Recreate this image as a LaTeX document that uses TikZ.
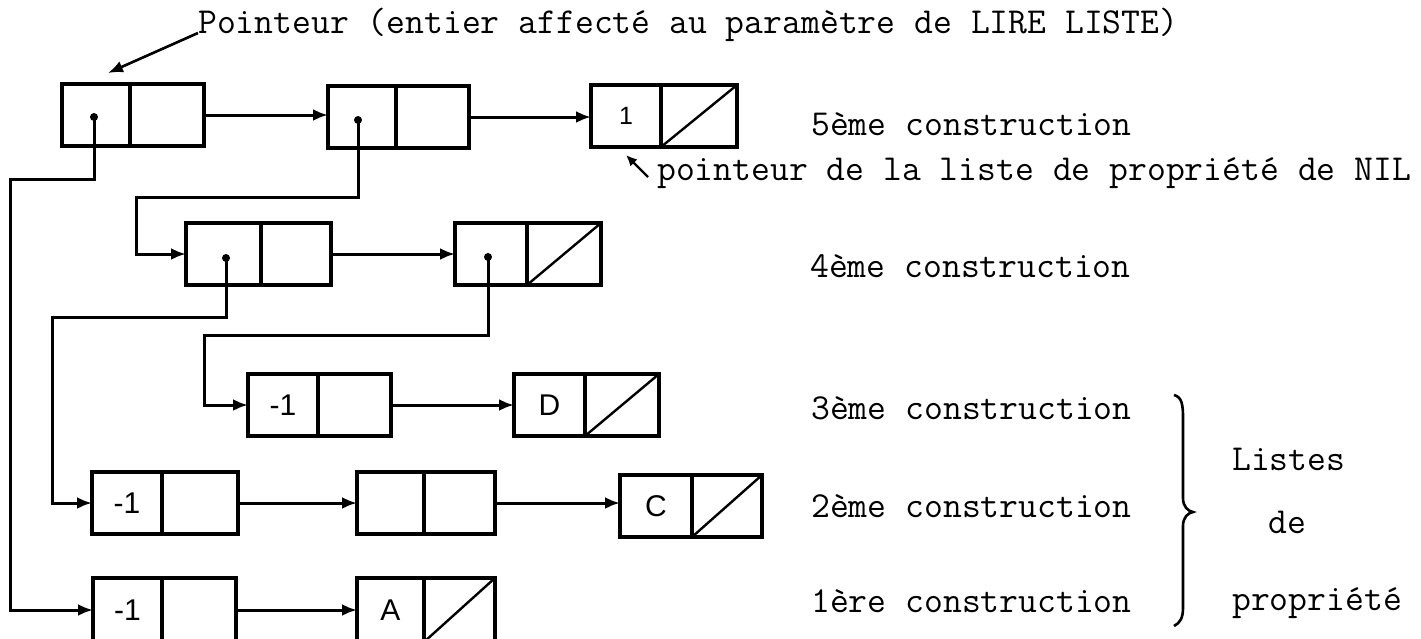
\documentclass[tikz,border=0pt]{standalone}
\usepackage{fontspec}
\setsansfont{Liberation Sans}
\usetikzlibrary{arrows.meta}
\begin{document}
\begin{tikzpicture}[x=1pt,y=-1pt,
  cell/.style={draw, line width=3.2pt, inner sep=0pt, outer sep=0pt, minimum height=62pt, anchor=north west, font=\sffamily\fontsize{30}{32}\selectfont},
  link/.style={line width=3pt, -{Latex[length=15pt,width=12pt]}},
  diag/.style={line width=2.4pt},
  lbl/.style={font=\ttfamily\fontsize{36.6}{40}\selectfont, anchor=base west, inner sep=0pt},
  dotc/.style={fill=black}]
\useasboundingbox (0,0) rectangle (1421,638);
\clip (0,0) rectangle (1421,638);

% row 1
\node[cell, minimum width=68pt] (b1l) at (62,84) {};
\node[cell, minimum width=74pt] (b1r) at (b1l.north east) {};
\node[cell, minimum width=68pt] (b2l) at (328,86) {};
\node[cell, minimum width=73pt] (b2r) at (b2l.north east) {};
\node[cell, minimum width=70pt, font=\sffamily\fontsize{25}{27}\selectfont] (b3l) at (591,85) {1};
\node[cell, minimum width=76pt] (b3r) at (b3l.north east) {};
% row 2
\node[cell, minimum width=75pt] (b4l) at (186,223) {};
\node[cell, minimum width=70pt] (b4r) at (b4l.north east) {};
\node[cell, minimum width=72pt] (b5l) at (455,223) {};
\node[cell, minimum width=74pt] (b5r) at (b5l.north east) {};
% row 3
\node[cell, minimum width=70pt] (b6l) at (248,374) {-1};
\node[cell, minimum width=73pt] (b6r) at (b6l.north east) {};
\node[cell, minimum width=71pt] (b7l) at (514,374) {D};
\node[cell, minimum width=74pt] (b7r) at (b7l.north east) {};
% row 4
\node[cell, minimum width=70pt] (b8l) at (92,472) {-1};
\node[cell, minimum width=76pt] (b8r) at (b8l.north east) {};
\node[cell, minimum width=67pt] (b9l) at (357,472) {};
\node[cell, minimum width=71pt] (b9r) at (b9l.north east) {};
\node[cell, minimum width=72pt] (b10l) at (620,475) {C};
\node[cell, minimum width=70pt] (b10r) at (b10l.north east) {};
% row 5
\node[cell, minimum width=69pt, minimum height=64pt] (b11l) at (93,578) {-1};
\node[cell, minimum width=74pt, minimum height=64pt] (b11r) at (b11l.north east) {};
\node[cell, minimum width=67pt, minimum height=64pt] (b12l) at (357,578) {A};
\node[cell, minimum width=71pt, minimum height=64pt] (b12r) at (b12l.north east) {};

% nil diagonals
\foreach \c in {b3r,b5r,b7r,b10r,b12r}
  \draw[diag] (\c.south west) -- (\c.north east);

% horizontal links
\draw[link] (b1r.east) -- (b1r.east -| b2l.west);
\draw[link] (b2r.east) -- (b2r.east -| b3l.west);
\draw[link] (b4r.east) -- (b4r.east -| b5l.west);
\draw[link] (b6r.east) -- (b6r.east -| b7l.west);
\draw[link] (b8r.east) -- (b8r.east -| b9l.west);
\draw[link] (b9r.east) -- (b9r.east -| b10l.west);
\draw[link] (b11r.east) -- (b11r.east -| b12l.west);

% pointer dots
\coordinate (d1) at (94,117);
\coordinate (d2) at (358,120);
\coordinate (d3) at (226,258);
\coordinate (d4) at (488,257);
\foreach \d in {d1,d2,d3,d4} \fill[dotc] (\d) circle (4);

\coordinate (j1) at (10,179);
\coordinate (j2) at (136,197);
\coordinate (j3) at (52,317);
\coordinate (j4) at (204,335);
\draw[link] (d1) |- (j1) |- (b11l.west);
\draw[link] (d2) |- (j2) |- (b4l.west);
\draw[link] (d3) |- (j3) |- (b8l.west);
\draw[link] (d4) |- (j4) |- (b6l.west);

% top label
\node[lbl] (ptr) at (198,33) {Pointeur (entier affecté au paramètre de LIRE LISTE)};
\coordinate (ptip) at (108,73);
\draw[link, line width=2.6pt] (ptr.base west) -- (ptip);

% NIL property-list pointer label
\node[lbl] (nilp) at (657,180) {pointeur de la liste de propriété de NIL};
\coordinate (ntail) at (648,177);
\coordinate (ntip) at (626,155);
\draw[line width=2.4pt, -{Latex[length=11pt,width=10pt]}] (ntail) -- (ntip);

% construction labels
\node[lbl] (c5) at (811,135) {5ème construction};
\node[lbl] (c4) at (810,277) {4ème construction};
\node[lbl] (c3) at (811,419) {3ème construction};
\node[lbl] (c2) at (811,517) {2ème construction};
\node[lbl] (c1) at (811,612) {1ère construction};

% brace
\draw[line width=2.6pt] (1174,395) .. controls (1182,397) and (1183,405) .. (1183,418) -- (1183,498)
  .. controls (1183,507) and (1188,511) .. (1193,512)
  .. controls (1188,513) and (1183,517) .. (1183,526) -- (1183,608)
  .. controls (1183,618) and (1180,623) .. (1174,626);

\node[lbl] (l1) at (1232,470) {Listes};
\node[lbl] (l2) at (1268,533) {de};
\node[lbl] (l3) at (1232,610) {propriété};
\end{tikzpicture}
\end{document}
